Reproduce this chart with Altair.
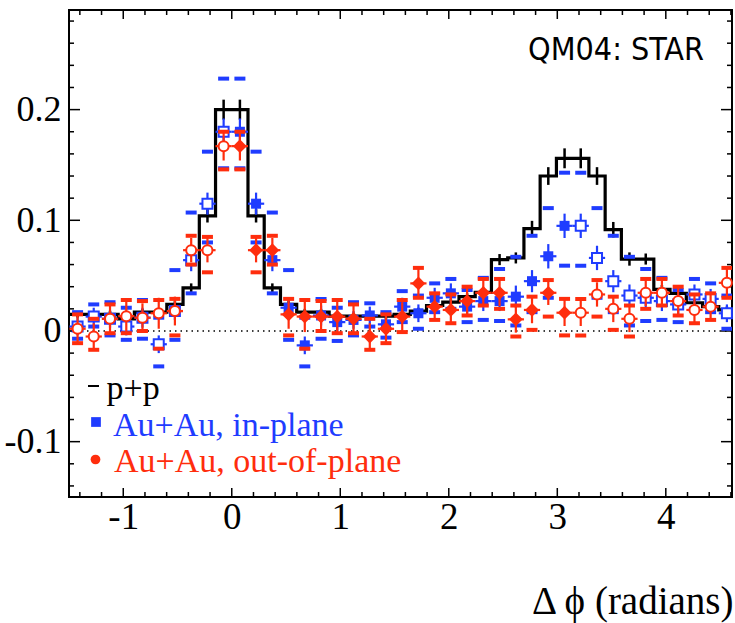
import math
import altair as alt
import pandas as pd

BLUE = "#1f3cff"
RED = "#ff2d0d"
SERIF = "Liberation Serif"

# ---- bin centres (radians) ----
X_BINS = [-1.421, -1.272, -1.122, -0.972, -0.823, -0.673, -0.524, -0.374, -0.224, -0.075,
          0.075, 0.224, 0.374, 0.524, 0.673, 0.823, 0.972, 1.122, 1.272, 1.421, 1.571,
          1.720, 1.870, 2.019, 2.169, 2.318, 2.468, 2.618, 2.767, 2.917, 3.067,
          3.216, 3.366, 3.516, 3.665, 3.815, 3.964, 4.114, 4.264, 4.413, 4.563]
HALF_BIN = 0.0748

# ---- p+p ----
PP_Y = [0.015, 0.015, 0.015, 0.011, 0.017, 0.017, 0.024, 0.039, 0.104, 0.200,
        0.200, 0.104, 0.039, 0.024, 0.017, 0.017, 0.0135, 0.0135, 0.0135, 0.0135, 0.015,
        0.018, 0.023, 0.026, 0.031, 0.035, 0.0645, 0.066, 0.0925, 0.140, 0.156,
        0.156, 0.140, 0.0915, 0.065, 0.065, 0.0375, 0.034, 0.0255, 0.022, 0.019]
PP_ERR = [0.003, 0.003, 0.003, 0.003, 0.003, 0.003, 0.003, 0.004, 0.006, 0.009,
          0.009, 0.006, 0.004, 0.003, 0.003, 0.003, 0.003, 0.003, 0.003, 0.003, 0.003,
          0.003, 0.003, 0.003, 0.003, 0.004, 0.005, 0.005, 0.007, 0.008, 0.009,
          0.009, 0.008, 0.007, 0.006, 0.005, 0.004, 0.003, 0.003, 0.003, 0.003]

# ---- Au+Au in-plane ----
IN_Y = [0.004, 0.013, 0.011, 0.004, 0.012, -0.012, 0.018, 0.064, 0.115, 0.180,
        0.180, 0.115, 0.064, 0.021, -0.013, 0.014, 0.008, 0.010, 0.014, 0.006, 0.022,
        0.016, 0.030, 0.034, 0.022, 0.027, 0.027, 0.031, 0.045, 0.0675, 0.095,
        0.095, 0.066, 0.045, 0.032, 0.030, 0.027, 0.024, 0.033, 0.029, 0.016]
IN_ERR = [0.008, 0.008, 0.008, 0.008, 0.009, 0.008, 0.008, 0.010, 0.010, 0.012,
          0.012, 0.010, 0.010, 0.008, 0.008, 0.009, 0.008, 0.008, 0.008, 0.008, 0.008,
          0.008, 0.009, 0.009, 0.009, 0.009, 0.009, 0.010, 0.010, 0.011, 0.011,
          0.011, 0.011, 0.010, 0.010, 0.009, 0.009, 0.009, 0.009, 0.009, 0.008]
IN_SYS_HI = [0.017, 0.024, 0.026, 0.021, 0.028, 0.012, 0.055, 0.107, 0.162, 0.228,
             0.228, 0.162, 0.107, 0.055, 0.012, 0.029, 0.021, 0.026, 0.025, 0.017, 0.036,
             0.032, 0.043, 0.047, 0.037, 0.048, 0.056, 0.067, 0.086, 0.111, 0.143,
             0.143, 0.111, 0.086, 0.067, 0.056, 0.048, 0.037, 0.047, 0.043, 0.032]
IN_SYS_LO = [-0.007, 0.004, -0.004, -0.008, -0.007, -0.032, -0.008, 0.034, 0.080, 0.147,
             0.147, 0.080, 0.034, -0.008, -0.032, -0.007, -0.009, -0.004, 0.004, -0.006, 0.008,
             0.002, 0.017, 0.020, 0.008, 0.010, 0.009, 0.005, 0.017, 0.030, 0.059,
             0.059, 0.030, 0.017, 0.005, 0.009, 0.010, 0.008, 0.020, 0.017, 0.002]

# ---- Au+Au out-of-plane ----
OUT_Y = [0.002, -0.005, 0.011, 0.0134, 0.012, 0.016, 0.018, 0.073, 0.073, 0.167,
         0.167, 0.073, 0.073, 0.015, 0.013, 0.013, 0.013, 0.011, -0.005, 0.002, 0.013,
         0.043, 0.022, 0.019, 0.027, 0.0345, 0.0345, 0.0105, 0.019, 0.0345, 0.0165,
         0.0165, 0.033, 0.020, 0.011, 0.0345, 0.0345, 0.027, 0.019, 0.022, 0.0435]
OUT_ERR = [0.012, 0.012, 0.012, 0.014, 0.013, 0.014, 0.013, 0.011, 0.011, 0.013,
           0.013, 0.011, 0.011, 0.013, 0.014, 0.013, 0.014, 0.012, 0.012, 0.012, 0.013,
           0.013, 0.012, 0.013, 0.012, 0.012, 0.012, 0.012, 0.012, 0.011, 0.012,
           0.012, 0.011, 0.012, 0.012, 0.012, 0.012, 0.012, 0.013, 0.012, 0.013]
OUT_SYS_HI = [0.015, 0.011, 0.024, 0.028, 0.027, 0.028, 0.029, 0.086, 0.085, 0.180,
              0.180, 0.085, 0.086, 0.029, 0.028, 0.027, 0.028, 0.024, 0.011, 0.015, 0.028,
              0.057, 0.034, 0.033, 0.040, 0.047, 0.047, 0.023, 0.031, 0.046, 0.029,
              0.029, 0.046, 0.031, 0.023, 0.047, 0.047, 0.040, 0.033, 0.034, 0.057]
OUT_SYS_LO = [-0.011, -0.017, -0.002, -0.002, 0.000, -0.016, -0.004, 0.060, 0.053, 0.146,
              0.146, 0.053, 0.060, -0.004, -0.016, 0.000, -0.002, -0.002, -0.017, -0.011, -0.001,
              0.030, 0.010, 0.007, 0.014, 0.023, 0.020, -0.005, 0.001, 0.013, -0.004,
              -0.004, 0.013, 0.001, -0.005, 0.020, 0.023, 0.014, 0.007, 0.010, 0.030]

X_MAJOR = [-1, 0, 1, 2, 3, 4]
X_MINOR = [-1.4, -1.2, -0.8, -0.6, -0.4, -0.2, 0.2, 0.4, 0.6, 0.8, 1.2, 1.4, 1.6, 1.8,
           2.2, 2.4, 2.6, 2.8, 3.2, 3.4, 3.6, 3.8, 4.2, 4.4, 4.6]
Y_MAJOR = [-0.1, 0, 0.1, 0.2]
Y_MINOR = [-0.14, -0.12, -0.08, -0.06, -0.04, -0.02, 0.02, 0.04, 0.06, 0.08,
           0.12, 0.14, 0.16, 0.18, 0.22, 0.24, 0.26, 0.28]
LEGEND_LABELS = ["p+p", "Au+Au, in-plane", "Au+Au, out-of-plane"]
TAG = "QM04: STAR"

W, H = 663, 487
XS = alt.Scale(domain=[-1.5, 4.61], nice=False, zero=False)
YS = alt.Scale(domain=[-0.15, 0.29], nice=False, zero=False)
XAXIS = alt.Axis(values=X_MAJOR, ticks=False, domain=False, grid=False,
                 labelFont=SERIF, labelFontSize=37, labelColor="black", labelPadding=2,
                 labelExpr="'' + datum.value", labelFlush=False, labelOverlap=False,
                 title="Δ ϕ (radians)", titleFont=SERIF, titleFontSize=39,
                 titleFontWeight="normal", titleColor="black", titleAlign="right",
                 titleAnchor="end", titleBaseline="alphabetic", titleX=W + 1, titleY=116)
YAXIS = alt.Axis(values=Y_MAJOR, ticks=False, domain=False, grid=False,
                 labelFont=SERIF, labelFontSize=36, labelColor="black", labelPadding=8,
                 labelExpr="'' + datum.value", labelFlush=False, labelOverlap=False,
                 title="")


def xe(f="x"):
    return alt.X(f"{f}:Q", scale=XS, axis=XAXIS)


def ye(f="y"):
    return alt.Y(f"{f}:Q", scale=YS, axis=YAXIS)


def frame(y, e, hi, lo):
    d = pd.DataFrame({"x": X_BINS, "y": y, "e": e, "shi": hi, "slo": lo})
    d["lo"] = d["y"] - d["e"]
    d["hi"] = d["y"] + d["e"]
    d["xlo"] = d["x"] - HALF_BIN
    d["xhi"] = d["x"] + HALF_BIN
    d["filled"] = (d["x"] > 0) & (d["x"] < math.pi)
    return d


df_pp = pd.DataFrame({"x": X_BINS, "y": PP_Y, "e": PP_ERR})
df_pp["lo"] = df_pp["y"] - df_pp["e"]
df_pp["hi"] = df_pp["y"] + df_pp["e"]
# extend the histogram by one bin at each end so the steps reach the frame
ext = pd.DataFrame({"x": [X_BINS[0] - 2 * HALF_BIN, X_BINS[-1] + 2 * HALF_BIN],
                    "y": [PP_Y[0], PP_Y[-1]]})
df_line = pd.concat([ext.iloc[[0]], df_pp[["x", "y"]], ext.iloc[[1]]], ignore_index=True)

df_in = frame(IN_Y, IN_ERR, IN_SYS_HI, IN_SYS_LO)
df_out = frame(OUT_Y, OUT_ERR, OUT_SYS_HI, OUT_SYS_LO)

layers = []

# zero line
layers.append(alt.Chart(pd.DataFrame({"y": [0.0]})).mark_rule(
    color="black", strokeWidth=1.5, strokeDash=[1.5, 4]).encode(y=ye()))

# inward ticks on all four sides
for vals, ln in [(X_MAJOR, 9), (X_MINOR, 5)]:
    d = pd.DataFrame({"x": vals})
    layers.append(alt.Chart(d).mark_rule(color="black", strokeWidth=1.5).encode(
        x=xe(), y=alt.value(H), y2=alt.value(H - ln)))
    layers.append(alt.Chart(d).mark_rule(color="black", strokeWidth=1.5).encode(
        x=xe(), y=alt.value(0), y2=alt.value(ln)))
for vals, ln in [(Y_MAJOR, 11), (Y_MINOR, 5)]:
    d = pd.DataFrame({"y": vals})
    layers.append(alt.Chart(d).mark_rule(color="black", strokeWidth=1.5).encode(
        y=ye(), x=alt.value(0), x2=alt.value(ln)))
    layers.append(alt.Chart(d).mark_rule(color="black", strokeWidth=1.5).encode(
        y=ye(), x=alt.value(W), x2=alt.value(W - ln)))

# p+p histogram
layers.append(alt.Chart(df_line).mark_line(
    color="black", strokeWidth=3.2, interpolate="step", clip=True).encode(x=xe(), y=ye()))
layers.append(alt.Chart(df_pp).mark_rule(color="black", strokeWidth=2.5).encode(
    x=xe(), y=ye("lo"), y2=alt.Y2("hi:Q")))


def series(d, color, fshape, fsize, oshape, osize):
    out = []
    base = alt.Chart(d)
    out.append(base.mark_rule(color=color, strokeWidth=2.2, clip=True).encode(
        x=xe("xlo"), x2=alt.X2("xhi:Q"), y=ye()))
    out.append(base.mark_rule(color=color, strokeWidth=2.2, clip=True).encode(
        x=xe(), y=ye("lo"), y2=alt.Y2("hi:Q")))
    for f in ["shi", "slo"]:
        out.append(base.mark_tick(orient="horizontal", color=color, size=11,
                                  thickness=4, opacity=1, clip=True).encode(
            x=xe(), y=ye(f)))
    out.append(base.transform_filter("datum.filled").mark_point(
        shape=fshape, filled=True, color=color, size=fsize, opacity=1).encode(
        x=xe(), y=ye()))
    out.append(base.transform_filter("!datum.filled").mark_point(
        shape=oshape, filled=True, fill="white", stroke=color, strokeWidth=2,
        size=osize, opacity=1).encode(x=xe(), y=ye()))
    return out


layers += series(df_in, BLUE, "square", 100, "square", 100)
layers += series(df_out, RED, "diamond", 190, "circle", 100)

# legend
dummy = pd.DataFrame({"a": [0]})
layers.append(alt.Chart(dummy).mark_rule(color="black", strokeWidth=2).encode(
    x=alt.value(19), x2=alt.value(30), y=alt.value(376)))
layers.append(alt.Chart(dummy).mark_point(shape="square", filled=True, color=BLUE,
                                          size=95, opacity=1).encode(
    x=alt.value(27), y=alt.value(412)))
layers.append(alt.Chart(dummy).mark_point(shape="circle", filled=True, color=RED,
                                          size=95, opacity=1).encode(
    x=alt.value(26.5), y=alt.value(449.5)))
for lab, col, px, py in zip(LEGEND_LABELS, ["black", BLUE, RED],
                            [37.5, 44, 45], [389, 425.5, 462]):
    layers.append(alt.Chart(pd.DataFrame({"t": [lab]})).mark_text(
        align="left", baseline="alphabetic", font=SERIF, fontSize=34, color=col).encode(
        x=alt.value(px), y=alt.value(py), text="t:N"))

layers.append(alt.Chart(pd.DataFrame({"t": [TAG]})).mark_text(
    align="left", baseline="alphabetic",
    font="Liberation Sans Narrow, DejaVu Sans Condensed, Liberation Sans",
    fontSize=32, color="black").encode(x=alt.value(459), y=alt.value(50), text="t:N"))

chart = alt.layer(*layers).properties(
    width=W, height=H,
    padding={"left": 69, "top": 10, "right": 3, "bottom": 126},
    autosize=alt.AutoSizeParams(type="none"),
    background="white",
).configure_view(stroke="black", strokeWidth=2)

chart.save("out.html", embed_options={"renderer": "svg", "actions": False})
